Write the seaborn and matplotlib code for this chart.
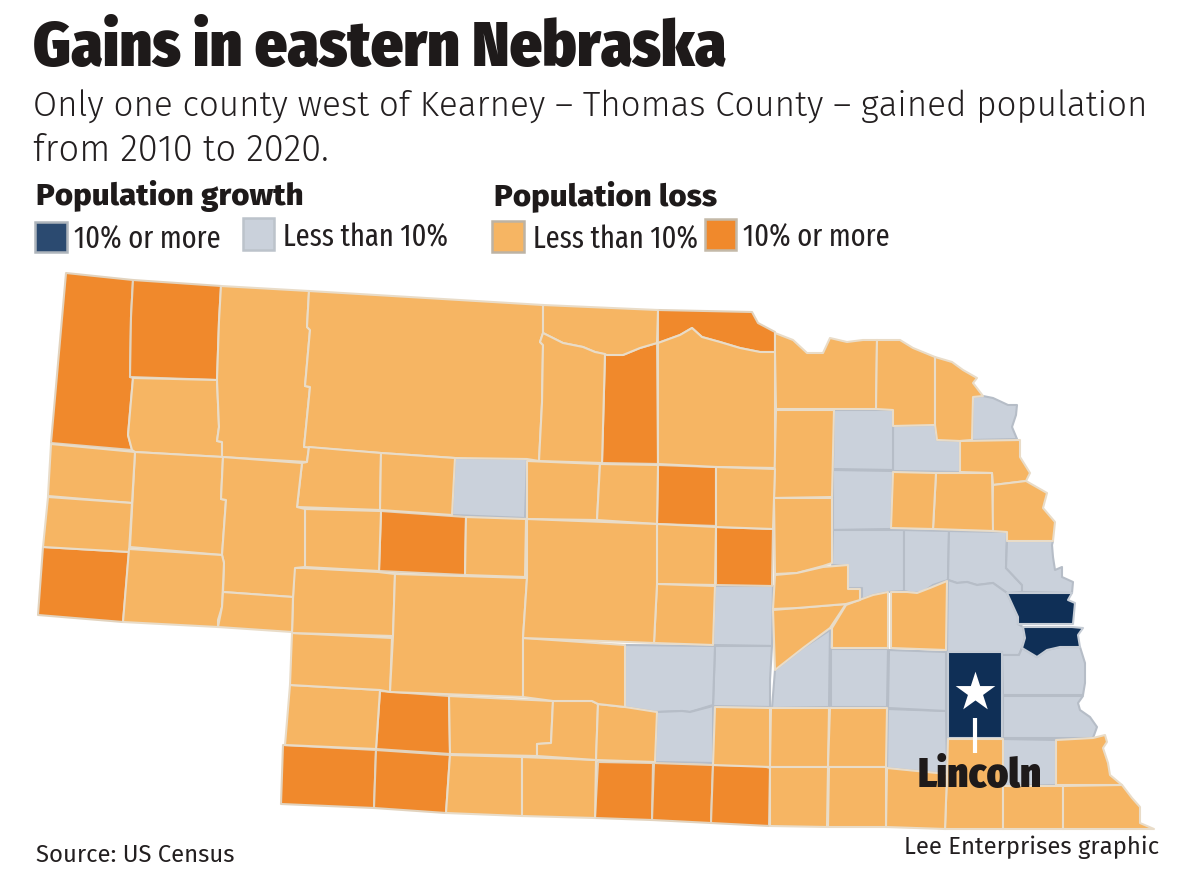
import seaborn as sns
import matplotlib.pyplot as plt

# ------------------------- Data ------------------------- #
title = "Gains in eastern Nebraska"
subtitle = ["Only one county west of Kearney \u2013 Thomas County \u2013 gained population",
            "from 2010 to 2020."]
source = "Source: US Census"
credit = "Lee Enterprises graphic"

status_colors = ["#0F2F56", "#CAD1DB", "#F6B563", "#F0892C"]
edge_colors = ["#C5CCD5", "#B6BDC7", "#E9DCC8", "#E2D3BE"]
legend_colors = ["#2B4A70", "#CAD1DB", "#F6B563", "#F0892C"]
swatch_edges = ["#AEB5BC", "#BCC3CB", "#BDB3A4", "#C4B9A8"]
swatch_labels = ["10% or more", "Less than 10%", "Less than 10%", "10% or more"]

gain_big = ["Douglas", "Sarpy", "Lancaster"]
gain_small = ["Thomas", "Dakota", "Wayne", "Pierce", "Madison", "Platte", "Colfax", "Dodge",
              "Washington", "Saunders", "Cass", "Otoe", "Johnson", "Seward", "York", "Hamilton",
              "Howard", "Hall", "Buffalo", "Adams", "Saline"]
loss_big = ["Sioux", "Dawes", "Banner", "Rock", "Boyd", "Hooker", "Garfield", "Greeley",
            "Hayes", "Dundy", "Hitchcock", "Harlan", "Franklin", "Webster"]

# county outlines, in picture pixels
outlines = {
    "Sioux": [(66,273),(133,280),(131,317),(130,377),(133,378),(128,435),(132,450),(51,443)],
    "Dawes": [(133,280),(221,286),(219,321),(217,380),(130,377),(131,317)],
    "BoxButte": [(133,378),(217,380),(219,427),(217,441),(222,442),(222,457),(135,452),(132,450),(128,435)],
    "Sheridan": [(221,286),(309,291),(307,327),(310,330),(305,386),(310,387),(304,447),(309,447),(307,462),
                 (222,457),(222,442),(217,441),(219,427),(217,380),(219,321)],
    "Cherry": [(309,291),(543,305),(543,333),(540,342),(543,345),(542,403),(539,461),(527,459),(455,458),(381,453),
               (304,447),(310,387),(305,386),(310,330),(307,327)],
    "KeyaPaha": [(543,305),(658,310),(657,343),(640,348),(623,355),(607,355),(595,352),(583,347),(563,343),(543,333)],
    "Brown": [(543,333),(563,343),(583,347),(595,352),(605,354),(602,463),(539,461),(542,403),(543,345),(540,342)],
    "Rock": [(605,354),(623,355),(640,348),(657,343),(658,464),(602,463)],
    "Boyd": [(658,310),(752,312),(758,323),(775,332),(775,352),(760,352),(740,348),(720,342),(702,337),(692,328),
             (680,335),(658,343)],
    "Holt": [(658,343),(680,335),(692,328),(702,337),(720,342),(740,348),(760,352),(775,352),(775,468),(717,467),(658,464)],
    "Knox": [(775,333),(793,340),(807,353),(823,353),(830,338),(847,342),(863,340),(877,340),(876,409),(776,409),(775,352)],
    "Cedar": [(877,340),(900,340),(913,348),(935,357),(935,425),(893,426),(893,410),(876,409)],
    "Dixon": [(935,357),(952,362),(963,370),(977,378),(973,383),(983,396),(973,397),(972,440),(960,441),(937,440),(935,425)],
    "Dakota": [(973,397),(983,396),(993,398),(1008,405),(1017,405),(1016,415),(1012,427),(1017,439),(972,440)],
    "Thurston": [(960,441),(1020,440),(1020,457),(1030,473),(1026,481),(993,485),(992,473),(960,472)],
    "Burt": [(993,485),(1026,481),(1047,493),(1043,508),(1055,522),(1053,541),(1007,541),(1007,532),(992,531)],
    "Cuming": [(936,473),(992,473),(993,531),(933,529)],
    "Stanton": [(893,472),(936,473),(933,529),(891,528)],
    "Wayne": [(893,426),(935,425),(937,440),(960,441),(960,472),(893,471)],
    "Pierce": [(834,410),(893,410),(893,470),(833,469)],
    "Madison": [(833,470),(893,471),(891,529),(833,530)],
    "Antelope": [(776,410),(834,410),(832,497),(774,498)],
    "Boone": [(774,498),(832,498),(832,563),(823,566),(797,573),(775,574)],
    "Platte": [(833,530),(904,530),(904,591),(888,592),(873,595),(862,599),(862,588),(848,588),(848,566),(832,565)],
    "Colfax": [(904,530),(949,531),(948,580),(933,585),(923,592),(913,593),(904,591)],
    "Dodge": [(949,531),(1007,532),(1006,568),(1022,585),(1022,592),(1007,593),(993,583),(977,585),(967,582),(957,583),(948,580)],
    "Washington": [(1007,541),(1053,541),(1052,545),(1053,557),(1055,570),(1062,567),(1062,577),(1073,582),(1072,593),
                   (1022,592),(1022,585),(1006,568)],
    "Douglas": [(1007,593),(1072,593),(1068,600),(1075,603),(1073,624),(1018,624),(1018,617)],
    "Sarpy": [(1023,627),(1072,627),(1083,628),(1078,635),(1080,647),(1060,647),(1047,650),(1037,657),(1022,648),(1025,638)],
    "Saunders": [(948,580),(957,583),(967,582),(977,585),(993,583),(1007,593),(1018,617),(1018,624),(1023,627),(1025,638),(1022,648),
                 (1019,655),(1002,655),(1002,652),(947,652)],
    "Lancaster": [(948,652),(1002,652),(1002,738),(948,738)],
    "Cass": [(1002,655),(1019,655),(1022,648),(1037,657),(1047,650),(1060,647),(1080,647),(1085,663),(1085,683),(1083,695),(1003,695)],
    "Otoe": [(1003,696),(1083,696),(1078,703),(1080,710),(1090,717),(1097,727),(1093,738),(1003,738)],
    "Nemaha": [(1056,740),(1093,738),(1105,735),(1107,742),(1103,748),(1108,763),(1110,775),(1122,785),(1056,785)],
    "Johnson": [(1003,739),(1056,740),(1056,785),(1003,786)],
    "Gage": [(948,739),(1003,739),(1003,829),(945,829),(947,774)],
    "Saline": [(888,709),(946,711),(947,774),(887,768)],
    "Jefferson": [(887,768),(947,774),(945,829),(886,827)],
    "Pawnee": [(1003,786),(1063,786),(1063,829),(1003,829)],
    "Richardson": [(1063,786),(1122,785),(1132,798),(1140,807),(1140,823),(1154,829),(1063,829)],
    "Seward": [(889,650),(946,652),(946,711),(888,708)],
    "Butler": [(891,592),(907,592),(917,593),(930,588),(947,581),(946,650),(891,648)],
    "Polk": [(832,648),(832,628),(846,605),(862,599),(873,595),(888,592),(888,648)],
    "York": [(831,649),(888,649),(887,707),(831,707)],
    "Hamilton": [(775,670),(803,648),(830,630),(829,707),(772,708)],
    "Merrick": [(773,610),(797,608),(846,604),(830,628),(803,648),(775,670)],
    "Nance": [(775,575),(797,573),(823,567),(848,565),(848,589),(860,589),(860,600),(846,604),(797,608),(773,609)],
    "Howard": [(715,586),(773,586),(772,646),(713,645)],
    "Hall": [(715,646),(772,646),(770,680),(770,707),(713,706)],
    "Buffalo": [(625,645),(715,646),(713,705),(690,712),(682,711),(657,712),(625,707)],
    "Adams": [(657,712),(682,711),(690,712),(713,706),(713,763),(655,762)],
    "Clay": [(715,707),(770,708),(770,767),(713,765)],
    "Fillmore": [(771,708),(829,708),(828,767),(770,767)],
    "Thayer": [(830,708),(887,708),(886,767),(828,767)],
    "Nuckolls": [(770,767),(828,767),(827,827),(770,826)],
    "Republic": [(829,767),(886,767),(886,827),(828,827)],
    "Franklin": [(598,762),(653,763),(652,820),(595,818)],
    "Webster": [(654,763),(713,765),(711,823),(652,820)],
    "Harlan": [(713,765),(763,766),(770,768),(769,826),(711,823)],
    "Dundy": [(283,745),(376,750),(374,808),(281,804)],
    "Hitchcock": [(376,750),(450,755),(446,813),(374,808)],
    "RedWillow": [(450,755),(522,757),(522,816),(446,813)],
    "Furnas": [(522,757),(596,760),(595,818),(522,816)],
    "Chase": [(285,745),(290,685),(380,690),(376,749)],
    "Hayes": [(380,691),(449,696),(450,754),(376,749)],
    "Frontier": [(449,696),(553,701),(551,743),(537,744),(537,756),(450,754)],
    "Gosper": [(553,701),(592,701),(598,704),(596,760),(537,756),(537,744),(551,743)],
    "Phelps": [(598,704),(625,707),(657,712),(655,762),(596,760)],
    "Perkins": [(292,633),(392,638),(390,692),(380,690),(290,685)],
    "Keith": [(294,568),(303,568),(378,572),(395,574),(393,636),(292,633)],
    "Lincoln": [(395,574),(527,578),(523,638),(523,697),(390,692),(393,636)],
    "Dawson": [(523,638),(625,645),(625,707),(598,704),(592,701),(553,701),(523,697)],
    "Loup": [(527,461),(600,464),(597,520),(527,519)],
    "Blaine": [(600,464),(658,465),(657,524),(597,520)],
    "Garfield": [(658,465),(716,467),(716,526),(657,524)],
    "Wheeler": [(716,467),(775,469),(773,529),(716,527)],
    "Greeley": [(716,527),(773,529),(772,586),(716,585)],
    "Valley": [(657,524),(716,527),(715,585),(657,584)],
    "Sherman": [(657,584),(715,586),(713,645),(654,643)],
    "Custer": [(527,519),(657,524),(657,584),(654,643),(523,638),(527,578)],
    "Grant": [(309,447),(381,453),(380,510),(297,507),(302,463),(307,462)],
    "McPherson": [(381,453),(455,458),(452,515),(380,510)],
    "Thomas": [(455,458),(527,459),(525,518),(452,515)],
    "Arthur": [(305,509),(381,511),(379,571),(305,567)],
    "Hooker": [(381,511),(466,517),(465,575),(379,571)],
    "Logan": [(466,517),(526,519),(525,577),(465,575)],
    "Morrill": [(135,452),(223,457),(221,499),(226,500),(222,555),(130,547)],
    "Garden": [(223,457),(302,463),(297,507),(305,509),(305,567),(295,568),(293,597),(223,592),(224,563),(222,555),(226,500),(221,499)],
    "Scotts": [(51,444),(135,452),(132,503),(48,496)],
    "Gering": [(48,497),(132,503),(129,552),(43,547)],
    "Banner": [(43,547),(129,552),(123,622),(38,615)],
    "Cheyenne": [(129,549),(222,555),(224,563),(222,607),(218,620),(218,627),(123,622)],
    "Deuel": [(223,592),(293,597),(292,632),(218,627),(222,607)],
}
county_names = list(outlines)


def county_status(name):
    if name in gain_big:
        return 0
    if name in gain_small:
        return 1
    if name in loss_big:
        return 3
    return 2


# ------------------------- Setup ------------------------- #
sns.set_theme(style="white")
fill_palette = sns.color_palette(status_colors)
edge_palette = sns.color_palette(edge_colors)
legend_palette = sns.color_palette(legend_colors)

heavy = ["Fira Sans Condensed", "Roboto", "DejaVu Sans"]
narrow = ["Fira Sans Extra Condensed", "Fira Sans Condensed", "Roboto", "DejaVu Sans"]
plain = ["Fira Sans", "Lato", "DejaVu Sans"]

fig = plt.figure(figsize=(11.93, 8.93), dpi=100, facecolor="white")
ax = fig.add_axes([0, 0, 1, 1])
ax.set_xlim(0, 1193)
ax.set_ylim(893, 0)
ax.axis("off")

# ------------------------- Map ------------------------- #
for draw_status in [1, 0, 3, 2]:
    for name in county_names:
        if county_status(name) != draw_status:
            continue
        xs, ys = zip(*outlines[name])
        ax.fill(xs, ys, facecolor=fill_palette[draw_status], edgecolor=edge_palette[draw_status],
                linewidth=1.5, joinstyle="round", zorder=2)

# Lincoln marker
ax.scatter([975], [692], marker="*", s=900, color="white", linewidths=0, zorder=4)
ax.plot([975, 975], [718, 753], color="white", linewidth=3, solid_capstyle="butt", zorder=4)
ax.text(918, 787, "Lincoln", family=heavy, weight=900, fontsize=29.5, color="#1E1A1A", zorder=5)

# ------------------------- Text ------------------------- #
ax.text(33, 66, title, family=heavy, weight=900, fontsize=45.7, color="#1E1A1A")
ax.text(33, 117, subtitle[0], family=plain, weight=300, fontsize=25.2, color="#231F20")
ax.text(33, 161, subtitle[1], family=plain, weight=300, fontsize=26.2, color="#231F20")

ax.text(36, 205, "Population growth", family=plain, weight=800, fontsize=22.5, color="#1E1A1A")
ax.text(494, 205, "Population loss", family=plain, weight=800, fontsize=22.5, color="#1E1A1A")

swatch_boxes = [(35, 222, 32, 30), (243, 218, 31, 32), (492, 221, 32, 31), (705, 219, 31, 31)]
label_spots = [(74, 248), (283, 246), (533, 248), (743, 246)]
for i, (x, y, w, h) in enumerate(swatch_boxes):
    ax.add_patch(plt.Rectangle((x, y), w, h, facecolor=legend_palette[i], edgecolor=swatch_edges[i], linewidth=1.8))
    ax.text(label_spots[i][0], label_spots[i][1], swatch_labels[i], family=narrow, fontsize=22.3, color="#231F20")

ax.text(36, 862, source, family=plain, fontsize=17.2, color="#231F20")
ax.text(904, 854, credit, family=plain, fontsize=17.2, color="#231F20")

fig.savefig("out.png", dpi=100)
